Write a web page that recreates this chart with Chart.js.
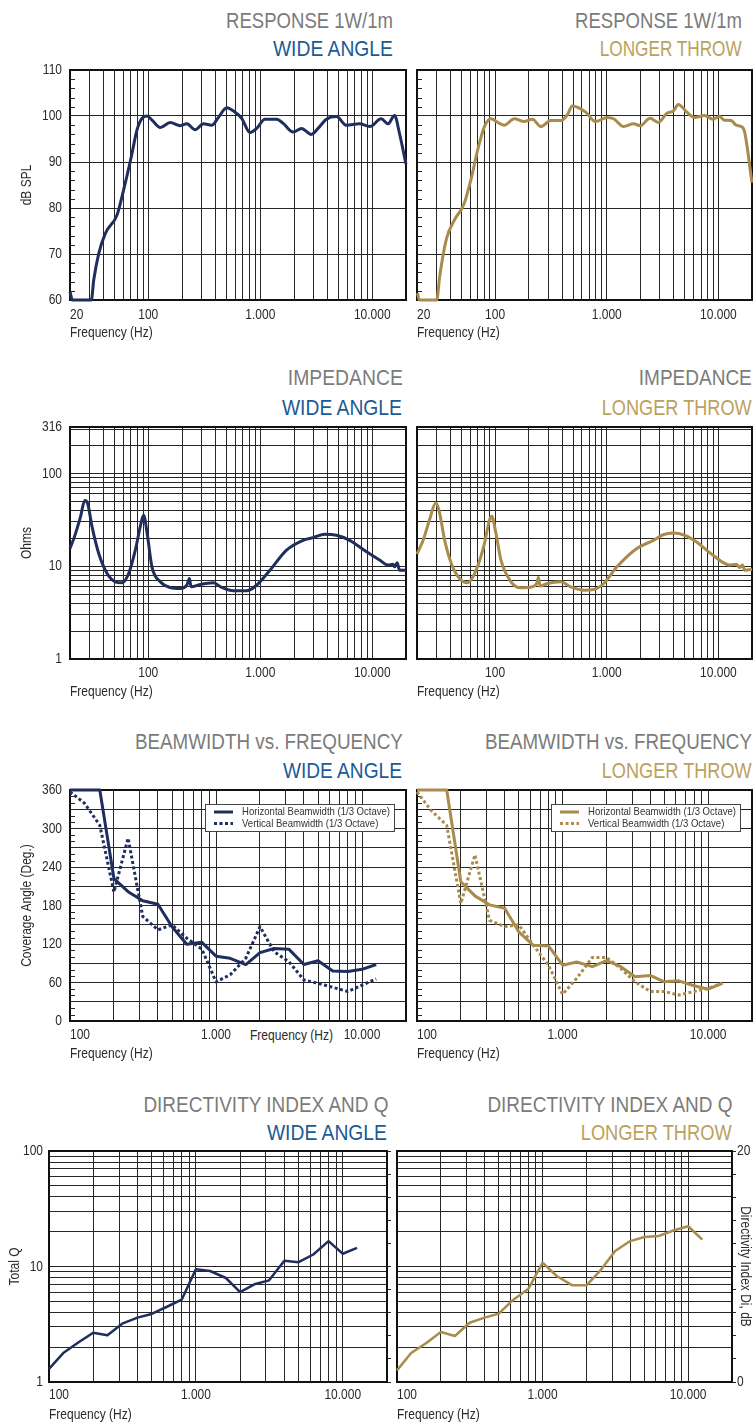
<!DOCTYPE html>
<html>
<head>
<meta charset="utf-8">
<script src="https://cdn.jsdelivr.net/npm/chart.js@4.4.1/dist/chart.umd.min.js"></script>
<style>
    body { margin: 0; background: #fff; }
    #page { position: relative; width: 753px; height: 1423px; overflow: hidden; background: #fff; }
    canvas { position: absolute; }
    .t { position: absolute; white-space: nowrap; font-family: 'Liberation Sans', Arial, sans-serif; font-size: 22px; line-height: 1; transform-origin: right center; }
    .g { color: #7b7b7b; }
    .b { color: #1b5a95; }
    .o { color: #bba15e; }
    .f { position: absolute; white-space: nowrap; font-family: 'Liberation Sans', Arial, sans-serif; font-size: 15px; line-height: 1; color: #2a2a2a; transform-origin: left center; }
</style>
</head>
<body>
<div id="page">
    <div class="t g" data-w="167" style="right:360px;top:10px">RESPONSE 1W/1m</div>
    <div class="t b" data-w="120" style="right:360px;top:38px">WIDE ANGLE</div>
    <div class="t g" data-w="167" style="right:11px;top:10px">RESPONSE 1W/1m</div>
    <div class="t o" data-w="142" style="right:11px;top:38px">LONGER THROW</div>

    <div class="t g" data-w="115" style="right:350px;top:367px">IMPEDANCE</div>
    <div class="t b" data-w="120" style="right:351px;top:397px">WIDE ANGLE</div>
    <div class="t g" data-w="113" style="right:1px;top:367px">IMPEDANCE</div>
    <div class="t o" data-w="150" style="right:1px;top:397px">LONGER THROW</div>

    <div class="t g" data-w="268" style="right:350px;top:731px">BEAMWIDTH vs. FREQUENCY</div>
    <div class="t b" data-w="119" style="right:351px;top:760px">WIDE ANGLE</div>
    <div class="t g" data-w="267" style="right:1px;top:731px">BEAMWIDTH vs. FREQUENCY</div>
    <div class="t o" data-w="150" style="right:1px;top:760px">LONGER THROW</div>

    <div class="t g" data-w="245" style="right:365px;top:1094px">DIRECTIVITY INDEX AND Q</div>
    <div class="t b" data-w="120" style="right:366px;top:1122px">WIDE ANGLE</div>
    <div class="t g" data-w="245" style="right:21px;top:1094px">DIRECTIVITY INDEX AND Q</div>
    <div class="t o" data-w="151" style="right:21px;top:1122px">LONGER THROW</div>

    <div class="f" data-w="83" style="left:250px;top:1027px">Frequency (Hz)</div>

    <canvas id="respWA" width="412" height="290" style="left:0;top:60px"></canvas>
    <canvas id="respLT" width="363" height="290" style="left:390px;top:60px"></canvas>
    <canvas id="impWA" width="412" height="292" style="left:0;top:417px"></canvas>
    <canvas id="impLT" width="363" height="292" style="left:390px;top:417px"></canvas>
    <canvas id="beamWA" width="412" height="291" style="left:0;top:780px"></canvas>
    <canvas id="beamLT" width="363" height="291" style="left:390px;top:780px"></canvas>
    <canvas id="diWA" width="393" height="282" style="left:0;top:1141px"></canvas>
    <canvas id="diLT" width="383" height="282" style="left:370px;top:1141px"></canvas>
</div>

<script>
// ---- data ----
const respFreqWA = [20, 21, 31, 32.6, 36.1, 41.4, 52.6, 60.3, 70.6, 79.3, 87.8, 97.3, 108, 128, 157, 193, 221, 262, 311, 369, 423, 502, 575, 682, 810, 928, 1100, 1398, 1600, 1967, 2333, 2855, 3280, 3890, 4790, 5860, 7690, 9500, 12000, 13800, 15800, 17500, 20000];
const respDbWA = [61.8, 60, 60, 64.4, 70.1, 74.5, 78.5, 84, 91.2, 97, 99.5, 100, 99.1, 97.5, 98.6, 97.9, 98.3, 97, 98.3, 98, 99.7, 101.8, 101.1, 99.5, 96.4, 97.3, 99.3, 99.3, 98.4, 96.5, 97.3, 96, 97.3, 99.3, 99.9, 98, 98.3, 97.7, 99.4, 98.3, 100.1, 96.2, 89.5];

const respFreqLT = [20.2, 21, 30, 32, 36.6, 43.5, 52.6, 61, 70, 80.3, 92, 105.6, 121, 148.6, 182, 216, 257, 315, 387, 443, 492, 645, 792, 1008, 1155, 1416, 1737, 1993, 2446, 2902, 3456, 3962, 4380, 5190, 6110, 7520, 8950, 10200, 11300, 13000, 14450, 16000, 17150, 20000];
const respDbLT = [61.5, 60, 60, 65.3, 73.2, 77.5, 80.8, 86.3, 92.7, 97.7, 99.4, 98.6, 98, 99.4, 98.8, 99.3, 97.7, 99, 99, 100.2, 102.2, 100.9, 98.8, 99.7, 99.4, 97.7, 98.3, 97.9, 99.5, 98.6, 100.6, 101.1, 102.5, 100.9, 99.7, 100.1, 99.3, 99.9, 99.1, 99, 98, 97.7, 96.6, 85.5];

const impFreqWA = [20, 21.9, 24.8, 27.1, 28.8, 31.5, 36.1, 42.9, 50.8, 58.3, 66.8, 76.6, 86, 90.9, 97.3, 107.8, 128, 157, 193, 221, 233, 241, 290, 381, 453, 575, 756, 928, 1220, 1715, 2410, 2960, 3765, 4790, 6280, 8880, 11700, 13800, 15300, 15800, 16700, 17500, 20000];
const impOhmWA = [15.5, 20.7, 34, 51, 47, 26.5, 13.7, 8.34, 6.79, 6.62, 8.34, 14.9, 28.8, 35.3, 23.4, 9.84, 6.79, 5.9, 5.75, 6.25, 7.37, 6.0, 6.35, 6.62, 5.9, 5.43, 5.43, 6.25, 9.06, 14.9, 19, 20.3, 22.1, 21.5, 19, 14.3, 11.6, 10.3, 10.5, 9.84, 10.9, 9.06, 9.06];

const impFreqLT = [20, 22.7, 26.1, 29.4, 31.5, 35.4, 40.6, 48, 57, 67.7, 80.3, 89, 93.4, 102, 113, 139, 170, 216, 236, 245, 253, 294, 387, 475, 624, 767, 941, 1235, 1860, 2620, 3220, 3955, 5010, 6350, 8960, 12600, 14450, 15500, 16400, 17200, 20000];
const impOhmLT = [13.5, 19, 32.6, 48, 40, 19, 10.7, 7.37, 6.62, 9.06, 17.5, 31.2, 34.5, 22.4, 11.6, 6.79, 5.85, 6.0, 6.51, 7.55, 6.1, 6.51, 6.79, 6.0, 5.52, 5.61, 6.51, 9.84, 15.5, 19, 21.9, 22.8, 21.5, 18.3, 13.1, 10.3, 10.5, 9.68, 10.3, 9.06, 9.2];

// 1/3 octave bands
const thirdOct = [100, 125, 160, 200, 250, 315, 400, 500, 630, 800, 1000, 1250, 1600, 2000, 2500, 3150, 4000, 5000, 6300, 8000, 10000, 12500];
const beamHorWA = [360, 360, 360, 222, 201.5, 187.5, 182, 147, 119.5, 122.6, 101, 97.7, 88, 106.5, 113, 112, 88, 94, 78, 77, 80.5, 88];
const beamVerWA = [357, 340, 305, 201, 285, 163, 142, 150, 129, 112, 61, 72, 98, 147, 108, 92.5, 64, 58.7, 52.5, 46, 56, 65.5];
const beamHorLT = [360, 360, 360, 217, 195, 181, 175.6, 139, 118, 117, 87, 92, 84.7, 94, 85, 69, 71, 61, 62.6, 55, 49.5, 58.7];
const beamVerLT = [357, 328, 305, 183, 259, 157, 147, 150, 118, 87, 41.5, 66.5, 99, 99, 82, 61, 46, 46, 40.5, 46, 51, 59];
const qWA = [1.30, 1.78, 2.22, 2.67, 2.54, 3.20, 3.61, 3.88, 4.46, 5.16, 9.45, 9.14, 7.95, 6.01, 7.01, 7.59, 11.2, 10.9, 12.7, 16.6, 12.9, 14.5];
const qLT = [1.26, 1.78, 2.19, 2.71, 2.50, 3.26, 3.61, 3.91, 5.16, 6.43, 10.8, 8.28, 6.87, 6.87, 9.27, 13.6, 16.6, 18.0, 18.4, 20.6, 22.3, 17.1];

// grid / tick values
const freqGrid20 = [20, 30, 40, 50, 60, 70, 80, 90, 100, 200, 300, 400, 500, 600, 700, 800, 900, 1000, 2000, 3000, 4000, 5000, 6000, 7000, 8000, 9000, 10000, 20000];
const freqGrid100 = [100, 200, 300, 400, 500, 600, 700, 800, 900, 1000, 2000, 3000, 4000, 5000, 6000, 7000, 8000, 9000, 10000, 20000];
const freqLabelVals = [20, 100, 1000, 10000];
const freqLabelText = ['20', '100', '1.000', '10.000'];
const freqLabels20 = [20, 100, 1000, 10000];
const freqLabels100 = [100, 1000, 10000];
const dbGrid = [60, 70, 80, 90, 100, 110];
const dbMinor = [62, 64, 66, 68, 72, 74, 76, 78, 82, 84, 86, 88, 92, 94, 96, 98, 102, 104, 106, 108];
const ohmGrid = [1, 2, 3, 4, 5, 6, 7, 8, 9, 10, 20, 30, 40, 50, 60, 70, 80, 90, 100, 200, 300, 316];
const ohmLabels = [1, 10, 100, 316];
const degGrid = [0, 30, 60, 90, 120, 150, 180, 210, 240, 270, 300, 330, 360];
const degLabels = [0, 60, 120, 180, 240, 300, 360];
const degMinor = [10, 20, 40, 50, 70, 80, 100, 110, 130, 140, 160, 170, 190, 200, 220, 230, 250, 260, 280, 290, 310, 320, 340, 350];
const qGrid = [1, 2, 3, 4, 5, 6, 7, 8, 9, 10, 20, 30, 40, 50, 60, 70, 80, 90, 100];
const qLabels = [1, 10, 100];
const diGrid = [0, 2, 4, 6, 8, 10, 12, 14, 16, 18, 20];
const diLabels = [0, 20];

const NAVY = '#1f2e5d';
const GOLD = '#a98b4c';
const GRID = '#262626';
const TXT = '#2a2a2a';
const FONT = "'Liberation Sans', Arial, sans-serif";
const NARROW = 0.8;   // the original uses a condensed face

Chart.defaults.font.family = FONT;
Chart.defaults.color = TXT;

// fit the html titles to the widths of the original
document.querySelectorAll('.t, .f').forEach(function (el) {
    var w = el.getBoundingClientRect().width;
    el.style.transform = 'scaleX(' + (el.dataset.w / w) + ')';
});

function pts(xs, ys) {
    return xs.map(function (x, i) { return { x: x, y: ys[i] }; });
}

// squeeze canvas text horizontally
const narrowPlugin = {
    id: 'narrow',
    beforeInit(chart) {
        const ctx = chart.ctx;
        const orig = ctx.fillText.bind(ctx);
        ctx.fillText = function (text, x, y) {
            ctx.save();
            ctx.translate(x, y);
            ctx.scale(NARROW, 1);
            orig(text, 0, 0);
            ctx.restore();
        };
    }
};

// frame around the plot area
const framePlugin = {
    id: 'frame',
    beforeDatasetsDraw(chart) {
        const a = chart.chartArea, ctx = chart.ctx;
        ctx.save();
        ctx.strokeStyle = '#111';
        ctx.lineWidth = 2;
        ctx.strokeRect(a.left, a.top, a.right - a.left, a.bottom - a.top);
        ctx.restore();
    }
};

// small ticks inside the left spine
const minorPlugin = {
    id: 'minor',
    beforeDatasetsDraw(chart, args, opts) {
        if (!opts.values) return;
        const y = chart.scales.y, a = chart.chartArea, ctx = chart.ctx;
        ctx.save();
        ctx.strokeStyle = GRID;
        ctx.lineWidth = 1;
        opts.values.forEach(function (v) {
            const p = Math.round(y.getPixelForValue(v)) + 0.5;
            ctx.beginPath();
            ctx.moveTo(a.left, p);
            ctx.lineTo(a.left + 5, p);
            ctx.stroke();
        });
        ctx.restore();
    }
};

// boxed legend inside the plot (beamwidth charts)
const legendPlugin = {
    id: 'boxLegend',
    afterDatasetsDraw(chart, args, opts) {
        if (!opts.show) return;
        const a = chart.chartArea, ctx = chart.ctx;
        const w = 189, h = 27;
        const x = Math.round(a.right - 12 - w), y = Math.round(a.top + 14);
        ctx.save();
        ctx.fillStyle = '#fff';
        ctx.fillRect(x, y, w, h);
        ctx.strokeStyle = '#444';
        ctx.lineWidth = 1;
        ctx.strokeRect(x + 0.5, y + 0.5, w, h);
        ctx.font = '11px ' + FONT;
        const sx = 148 / (NARROW * ctx.measureText(chart.data.datasets[0].label).width);
        chart.data.datasets.forEach(function (ds, i) {
            const cy = y + 8 + i * 11.5;
            ctx.strokeStyle = ds.borderColor;
            ctx.lineWidth = 3;
            ctx.setLineDash(ds.borderDash || []);
            ctx.beginPath();
            ctx.moveTo(x + 9, cy);
            ctx.lineTo(x + 28, cy);
            ctx.stroke();
            ctx.setLineDash([]);
            ctx.save();
            ctx.translate(x + 37, cy);
            ctx.scale(sx, 1);
            ctx.fillStyle = '#333';
            ctx.textBaseline = 'middle';
            ctx.fillText(ds.label, 0, 0);
            ctx.restore();
        });
        ctx.restore();
    }
};

function xFreq(grid, min, labels, tickPad, height, titlePad) {
    return {
        type: 'logarithmic', position: 'bottom', min: min, max: 20000,
        afterBuildTicks: function (s) { s.ticks = grid.map(function (v) { return { value: v }; }); },
        afterFit: function (s) { s.height = height; s.paddingLeft = 0; s.paddingRight = 0; },
        grid: { color: GRID, lineWidth: 1, drawTicks: false },
        border: { display: false },
        ticks: {
            autoSkip: false, maxRotation: 0, minRotation: 0, align: 'inner', padding: tickPad, color: TXT, font: { size: 15 },
            callback: function (v) { return labels.indexOf(v) < 0 ? '' : freqLabelText[freqLabelVals.indexOf(v)]; }
        },
        title: { display: true, text: 'Frequency (Hz)', align: 'start', color: TXT, font: { size: 15, lineHeight: 1.1 }, padding: { top: 0, bottom: titlePad } }
    };
}

function yAxis(type, min, max, grid, labels, title, width, pad, titlePad) {
    return {
        type: type, position: 'left', min: min, max: max,
        afterBuildTicks: function (s) { s.ticks = grid.map(function (v) { return { value: v }; }); },
        afterFit: function (s) { s.width = width; s.paddingTop = 0; s.paddingBottom = 0; },
        grid: { color: GRID, lineWidth: 1, drawTicks: false },
        border: { display: false },
        ticks: {
            display: labels.length > 0, autoSkip: false, padding: pad, color: TXT, font: { size: 15 },
            callback: function (v) { return labels.indexOf(v) < 0 ? '' : String(v); }
        },
        title: { display: !!title, text: title || '', color: TXT, font: { size: 15, lineHeight: 1.2 }, padding: { top: titlePad, bottom: 0 } }
    };
}

function diAxis(width, showLabels) {
    return {
        type: 'linear', position: 'right', min: 0, max: 20,
        afterBuildTicks: function (s) { s.ticks = diGrid.map(function (v) { return { value: v }; }); },
        afterFit: function (s) { s.width = width; s.paddingTop = 0; s.paddingBottom = 0; },
        grid: { drawOnChartArea: false, drawTicks: true, tickLength: 4, color: GRID, lineWidth: 1 },
        border: { display: false },
        ticks: {
            display: showLabels, autoSkip: false, padding: 1, color: TXT, font: { size: 15 },
            callback: function (v) { return diLabels.indexOf(v) < 0 ? '' : String(v); }
        },
        title: { display: showLabels, text: 'Directivity Index Di, dB', color: TXT, font: { size: 15, lineHeight: 1 }, padding: { top: 0, bottom: 0 } }
    };
}

function line(label, data, color, smooth, dash, width) {
    return {
        label: label, data: data, borderColor: color, backgroundColor: color,
        borderWidth: width, borderDash: dash || [], borderCapStyle: 'butt', borderJoinStyle: 'round',
        pointRadius: 0, fill: false, clip: false,
        cubicInterpolationMode: smooth ? 'monotone' : 'default', tension: 0
    };
}

function panel(id, datasets, scales, pad, minor, legend) {
    return new Chart(document.getElementById(id), {
        type: 'line',
        data: { datasets: datasets },
        options: {
            responsive: false, animation: false, events: [],
            layout: { autoPadding: false, padding: pad },
            scales: scales,
            plugins: {
                legend: { display: false }, tooltip: { enabled: false },
                minor: { values: minor }, boxLegend: { show: legend }
            }
        },
        plugins: [narrowPlugin, framePlugin, minorPlugin, legendPlugin]
    });
}

// ---- response ----
panel('respWA', [line('SPL', pts(respFreqWA, respDbWA), NAVY, true, null, 3)],
    { x: xFreq(freqGrid20, 20, freqLabels20, 6, 50, 8.75), y: yAxis('linear', 60, 110, dbGrid, dbGrid, 'dB SPL', 70, 8, 18) },
    { top: 10, right: 6, bottom: 0, left: 0 }, dbMinor, false);
panel('respLT', [line('SPL', pts(respFreqLT, respDbLT), GOLD, true, null, 3)],
    { x: xFreq(freqGrid20, 20, freqLabels20, 6, 50, 8.75), y: yAxis('linear', 60, 110, dbGrid, [], null, 27, 8, 0) },
    { top: 10, right: 1, bottom: 0, left: 0 }, dbMinor, false);

// ---- impedance ----
panel('impWA', [line('Ohms', pts(impFreqWA, impOhmWA), NAVY, true, null, 3)],
    { x: xFreq(freqGrid20, 20, freqLabels100, 5, 50, 8.75), y: yAxis('logarithmic', 1, 316, ohmGrid, ohmLabels, 'Ohms', 70, 8, 18) },
    { top: 10, right: 6, bottom: 0, left: 0 }, null, false);
panel('impLT', [line('Ohms', pts(impFreqLT, impOhmLT), GOLD, true, null, 3)],
    { x: xFreq(freqGrid20, 20, freqLabels100, 5, 50, 8.75), y: yAxis('logarithmic', 1, 316, ohmGrid, [], null, 27, 8, 0) },
    { top: 10, right: 1, bottom: 0, left: 0 }, null, false);

// ---- beamwidth ----
panel('beamWA', [
        line('Horizontal Beamwidth (1/3 Octave)', pts(thirdOct, beamHorWA), NAVY, false, null, 3),
        line('Vertical Beamwidth (1/3 Octave)', pts(thirdOct, beamVerWA), NAVY, false, [3, 2.5], 3)
    ],
    { x: xFreq(freqGrid100, 100, freqLabels100, 5, 50, 8.75), y: yAxis('linear', 0, 360, degGrid, degLabels, 'Coverage Angle (Deg.)', 70, 8, 18) },
    { top: 10, right: 6, bottom: 0, left: 0 }, degMinor, true);
panel('beamLT', [
        line('Horizontal Beamwidth (1/3 Octave)', pts(thirdOct, beamHorLT), GOLD, false, null, 3),
        line('Vertical Beamwidth (1/3 Octave)', pts(thirdOct, beamVerLT), GOLD, false, [3, 2.5], 3)
    ],
    { x: xFreq(freqGrid100, 100, freqLabels100, 5, 50, 8.75), y: yAxis('linear', 0, 360, degGrid, [], null, 27, 8, 0) },
    { top: 10, right: 1, bottom: 0, left: 0 }, degMinor, true);

// ---- directivity ----
panel('diWA', [line('Q', pts(thirdOct, qWA), NAVY, false, null, 2.5)],
    { x: xFreq(freqGrid100, 100, freqLabels100, 4, 41, 0), y: yAxis('logarithmic', 1, 100, qGrid, qLabels, 'Total Q', 49, 6, 6), y2: diAxis(6, false) },
    { top: 10, right: 0, bottom: 0, left: 0 }, null, false);
panel('diLT', [line('Q', pts(thirdOct, qLT), GOLD, false, null, 2.5)],
    { x: xFreq(freqGrid100, 100, freqLabels100, 4, 41, 0), y: yAxis('logarithmic', 1, 100, qGrid, [], null, 27, 6, 0), y2: diAxis(21, true) },
    { top: 10, right: 0, bottom: 0, left: 0 }, null, false);
</script>
</body>
</html>
